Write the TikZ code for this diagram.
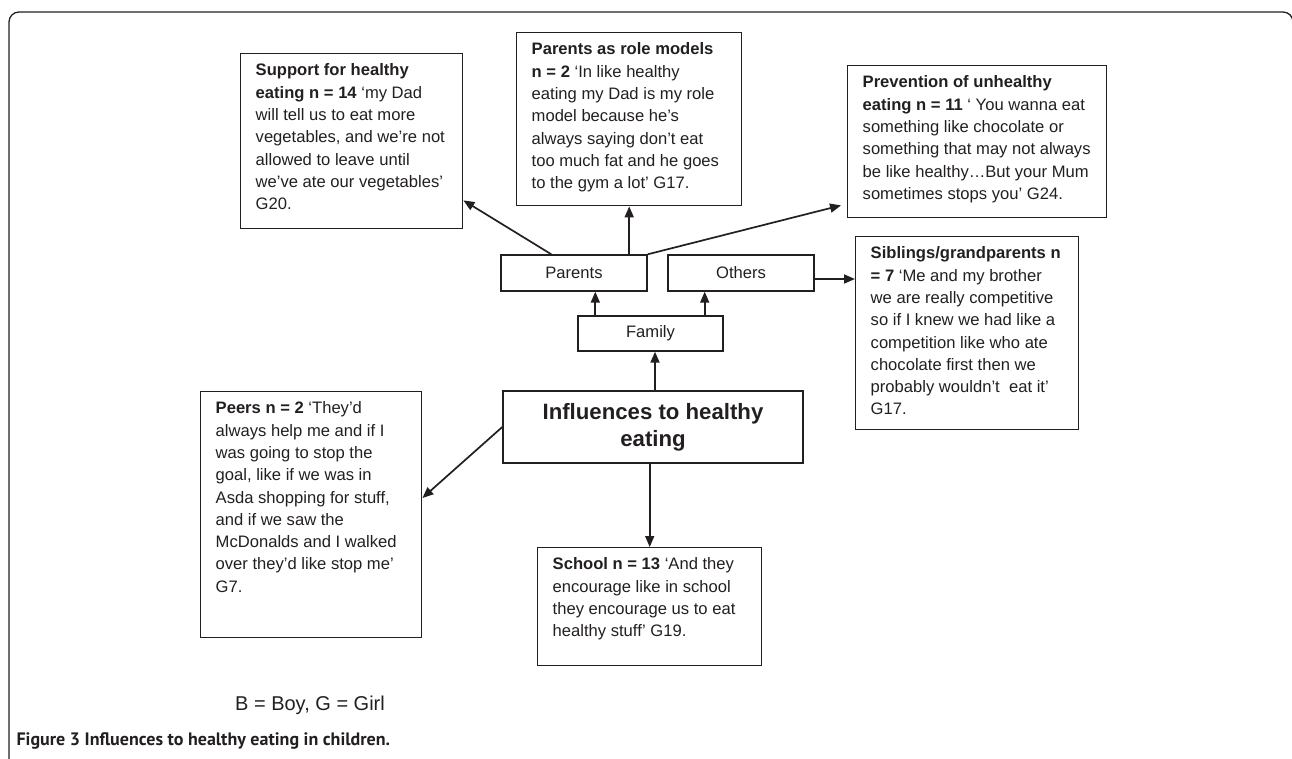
\documentclass[tikz,border=0pt]{standalone}
\usepackage{fontspec}
\setmainfont{Liberation Sans}
\newfontfamily\capfont{PT Sans}
\usetikzlibrary{arrows.meta,calc}
\definecolor{ink}{HTML}{231F20}
\newcommand\qbox[6]{%
  \node[qb, anchor=north west] (#1) at (#2,#3)
  {\parbox[c][\dimexpr #5pt-13pt\relax][t]{\dimexpr #4pt-30pt\relax}{\begin{tabular}[t]{@{}l@{}}#6\end{tabular}}};}
\begin{document}
\begin{tikzpicture}[x=1pt,y=-1pt,
  qb/.style={draw=ink, line width=1.4pt, inner xsep=15pt, inner ysep=6.5pt, text=ink,
    font=\fontsize{16.6}{22.3}\selectfont},
  lab/.style={draw=ink, line width=1.4pt, inner sep=0pt, text=ink,
    font=\fontsize{16.6}{20}\selectfont},
  arr/.style={draw=ink, line width=1.7pt, -{Triangle[length=11pt,width=9pt]}},
  ln/.style={draw=ink, line width=1.7pt}]
\useasboundingbox (0,0) rectangle (1292,759);
% frame
\draw[draw=ink, line width=1.3pt, rounded corners=10pt] (9,820) -- (9,12) -- (1293,12) -- (1293,820);

\qbox{sup}{240}{53}{222}{175}{\textbf{Support for healthy}\\
\textbf{eating n = 14} ‘my Dad\\
will tell us to eat more\\
vegetables, and we’re not\\
allowed to leave until\\
we’ve ate our vegetables’\\
G20.}

\qbox{role}{516}{32}{225}{173}{\textbf{Parents as role models}\\
\textbf{n = 2} ‘In like healthy\\
eating my Dad is my role\\
model because he’s\\
always saying don’t eat\\
too much fat and he goes\\
to the gym a lot’ G17.}

\qbox{prev}{847}{65}{259}{152}{\textbf{Prevention of unhealthy}\\
\textbf{eating n = 11} ‘ You wanna eat\\
something like chocolate or\\
something that may not always\\
be like healthy…But your Mum\\
sometimes stops you’ G24.}

\qbox{sib}{855}{236}{223}{193}{\textbf{Siblings/grandparents n}\\
\textbf{= 7} ‘Me and my brother\\
we are really competitive\\
so if I knew we had like a\\
competition like who ate\\
chocolate first then we\\
probably wouldn’t\ \ eat it’\\
G17.}

\qbox{peer}{200}{391}{221}{246}{\textbf{Peers n = 2} ‘They’d\\
always help me and if I\\
was going to stop the\\
goal, like if we was in\\
Asda shopping for stuff,\\
and if we saw the\\
McDonalds and I walked\\
over they’d like stop me’\\
G7.}

\qbox{sch}{537}{547}{224}{118}{\textbf{School n = 13} ‘And they\\
encourage like in school\\
they encourage us to eat\\
healthy stuff’ G19.}

\node[lab, minimum width=146pt, minimum height=36pt] (par) at (574,273) {Parents};
\node[lab, minimum width=146pt, minimum height=36pt] (oth) at (741,273) {Others};
\node[lab, minimum width=145pt, minimum height=35pt] (fam) at (650.5,333.5) {Family};
\node[lab, minimum width=300pt, minimum height=72pt, align=center,
  font=\bfseries\fontsize{22.2}{26.7}\selectfont] (main) at (653,427) {Influences to healthy\\eating};

\node[text=ink, font=\fontsize{20}{24}\selectfont] (key) at (310,705) {B = Boy, G = Girl};
\node[anchor=west, text=ink, font=\capfont\bfseries\fontsize{18}{22}\selectfont] (cap) at (13,741)
  {Figure 3 Influences to healthy eating in children.};

% connectors
\draw[arr] ([xshift=2pt]main.north) -- ([xshift=2pt]main.north |- fam.south);
\draw[arr] ([xshift=18pt]fam.north west) -- ([xshift=18pt]fam.north west |- par.south);
\draw[arr] ([xshift=-19pt]fam.north east) -- ([xshift=-19pt]fam.north east |- oth.south);
\draw[arr] ([yshift=-6pt]oth.east) -- ([yshift=-6pt]oth.east -| sib.west);
\draw[arr] ([xshift=51pt]par.north west) -- ([yshift=29pt]sup.south east);
\draw[arr] (par.north -| role.south) -- (role.south);
\draw[arr] (par.north east) -- ([xshift=-6pt,yshift=13pt]prev.south west);
\draw[arr] (main.west) -- ([yshift=-107pt]peer.north east);
\draw[arr] (main.south -| sch.north) -- (sch.north);
\end{tikzpicture}
\end{document}
